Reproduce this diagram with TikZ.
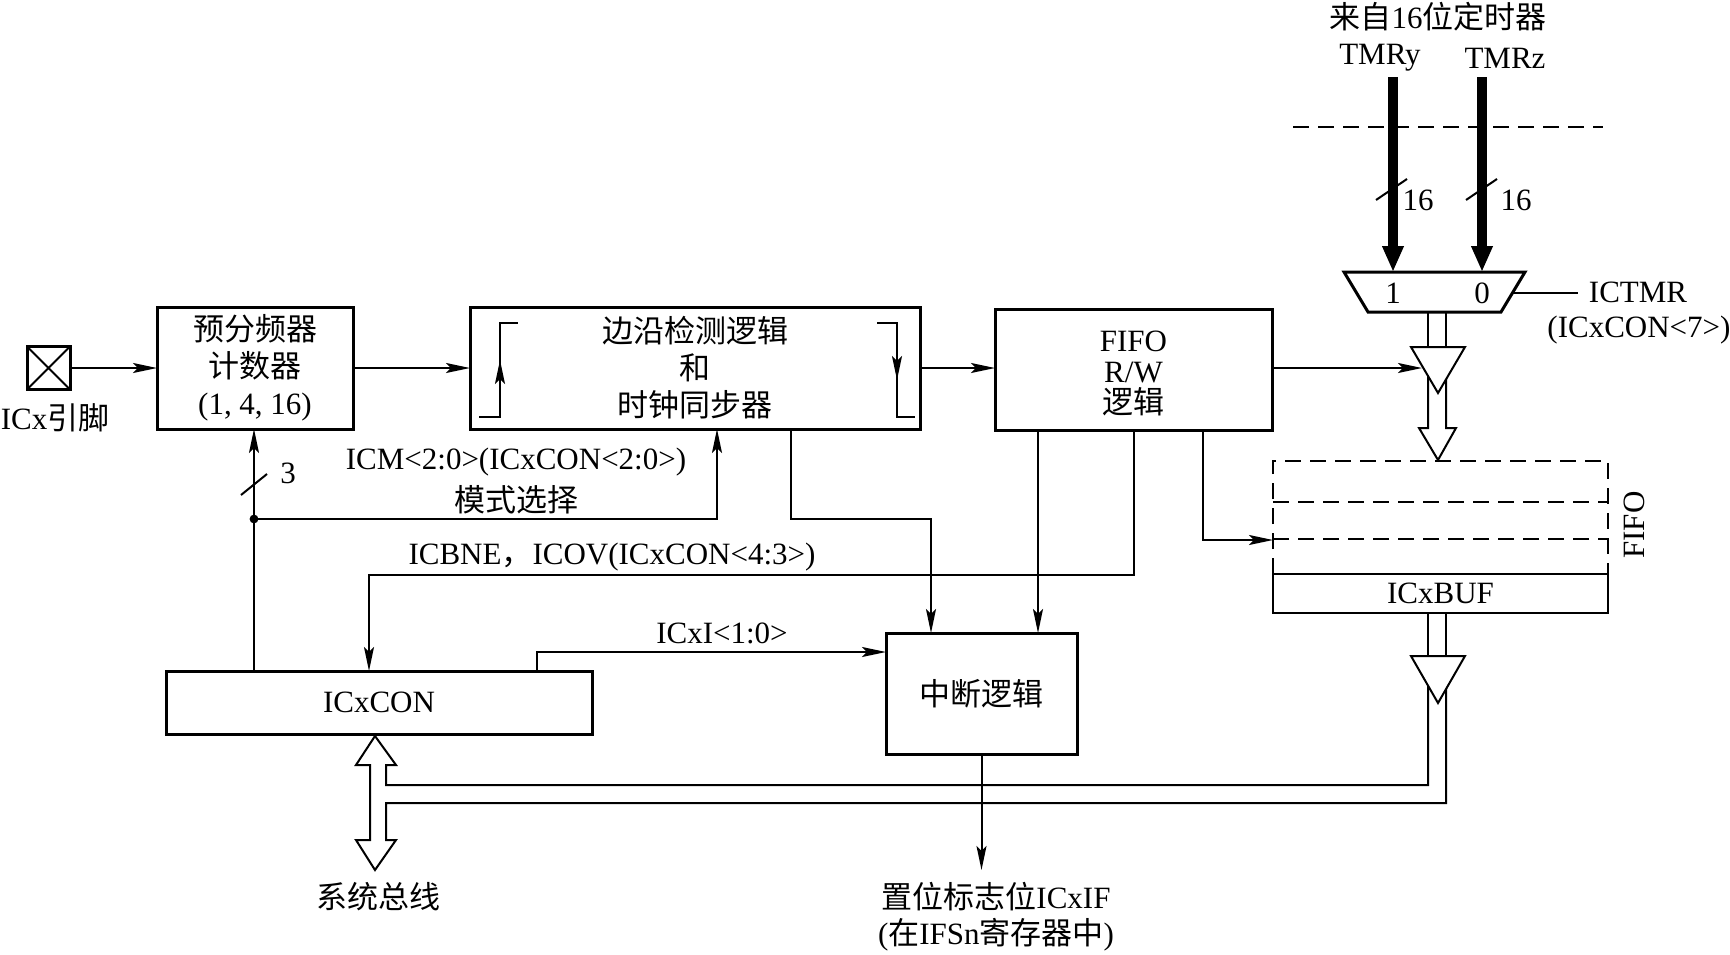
\documentclass[tikz,border=0pt]{standalone}
\usepackage{fontspec}
\setmainfont{Liberation Serif}
\newfontfamily\cjk{Noto Sans CJK SC}
\usetikzlibrary{arrows.meta}
\begin{document}
\begin{tikzpicture}[x=0.5pt,y=-0.5pt,
  font=\fontsize{15.5}{18.5}\selectfont,
  box/.style={draw, line width=1.5pt, inner sep=0pt, outer sep=0pt, align=center},
  conn/.style={line width=1pt},
  arr/.style={conn, -{Stealth[length=12pt,width=5pt,inset=2.5pt]}},
  lbl/.style={inner sep=0pt, align=center},
  fdash/.style={line width=1pt, dash pattern=on 8pt off 4.5pt},
  thickarr/.style={line width=5pt, -{Triangle[length=13pt,width=10pt]}}]
\useasboundingbox (0,0) rectangle (1730,954);

% ---- boxes ----
\node[box, minimum size=21.5pt] (pin) at (48.5,368) {};
\draw[line width=1pt] (pin.north west) -- (pin.south east) (pin.north east) -- (pin.south west);
\node[lbl] (pinlbl) at (55,418) {ICx{\cjk 引脚}};

\node[box, minimum width=98pt, minimum height=61pt] (pre) at (255,368)
  {{\cjk 预分频器}\\{\cjk 计数器}\\(1, 4, 16)};
\node[box, minimum width=225pt, minimum height=61pt] (edge) at (695,368)
  {{\cjk 边沿检测逻辑}\\{\cjk 和}\\{\cjk 时钟同步器}};
\node[box, minimum width=138.5pt, minimum height=60.5pt] (fiforw) at (1133.5,369.5) {};
\node[lbl, font=\fontsize{15.5}{15.5}\selectfont] (fiforwtxt) at (1133.5,373)
  {FIFO\\R/W\\{\cjk 逻辑}};
\node[box, minimum width=95.5pt, minimum height=60.5pt] (int) at (981.5,693.5) {\cjk 中断逻辑};
\node[box, minimum width=213pt, minimum height=31.5pt] (con) at (379,702.5) {ICxCON};
\node[draw, line width=1pt, inner sep=0pt, outer sep=0pt, minimum width=167.5pt, minimum height=19.5pt] (buf) at (1440.5,593.5) {ICxBUF};

% ---- brackets inside edge box ----
\draw[conn] (479,417) -- (500,417) -- (500,323) -- (518,323);
\draw[arr] (500,400) -- (500,360);
\draw[conn] (877,323) -- (897,323) -- (897,417) -- (915,417);
\draw[arr] (897,340) -- (897,380);

% ---- main signal path ----
\draw[arr] (pin) -- (pre);
\draw[arr] (pre) -- (edge);
\coordinate (ey) at (0,368);
\draw[arr] (edge.east |- ey) -- (fiforw.west |- ey);

% ---- ICxCON to prescaler / mode select ----
\coordinate (dot) at (254,519);
\draw[arr] (dot |- con.north) -- (dot |- pre.south);
\fill (dot) circle[radius=2.2pt];
\draw[conn] (241,495) -- (267,474);
\node[lbl] (n3) at (288,473) {3};
\coordinate (mx) at (717,519);
\draw[arr] (dot) -- (mx) -- (mx |- edge.south);
\node[lbl] (icm) at (516,462) {ICM<2:0>(ICxCON<2:0>)};
\node[lbl] (mode) at (516,500) {\cjk 模式选择};

% ---- edge box to interrupt logic ----
\coordinate (ea) at (791,519);
\coordinate (eb) at (931,519);
\draw[arr] (ea |- edge.south) -- (ea) -- (eb) -- (eb |- int.north);

% ---- FIFO R/W logic outputs ----
\coordinate (fa) at (1038,0);
\draw[arr] (fa |- fiforw.south) -- (fa |- int.north);
\coordinate (fb) at (1134,575);
\coordinate (cb) at (369,575);
\draw[arr] (fb |- fiforw.south) -- (fb) -- (cb) -- (cb |- con.north);
\node[lbl] (icbne) at (612,557) {ICBNE{\cjk ，}ICOV(ICxCON<4:3>)};
\coordinate (fc) at (1203,540);
\coordinate (st) at (1273,540);
\draw[arr] (fc |- fiforw.south) -- (fc) -- (st);

% ---- ICxI ----
\coordinate (ca) at (537,652);
\draw[arr] (ca |- con.north) -- (ca) -- (ca -| int.west);
\node[lbl] (icxi) at (722,633) {ICxI<1:0>};

% ---- interrupt output ----
\coordinate (out) at (0,870);
\draw[arr] (int.south) -- (int.south |- out);
\node[lbl] (flag) at (996,897) {{\cjk 置位标志位}ICxIF};
\node[lbl] (flag2) at (996,935) {({\cjk 在}IFSn{\cjk 寄存器中})};

% ---- FIFO stack ----
\draw[fdash] (1273,574) -- (1273,461) -- (1608,461) -- (1608,574);
\draw[fdash] (1273,502) -- (1608,502);
\draw[fdash] (1273,539) -- (1608,539);
\node[lbl, rotate=90] (fifolbl) at (1634,525) {FIFO};

% ---- timers and mux ----
\node[lbl] (from) at (1438,17) {{\cjk 来自}16{\cjk 位定时器}};
\node[lbl] (tmry) at (1380,58) {TMRy};
\node[lbl] (tmrz) at (1505,58) {TMRz};
\draw[fdash] (1293,127) -- (1603,127);
\coordinate (m1) at (1393,272);
\coordinate (m0) at (1482,272);
\draw[thickarr] (m1 |- 0,77) -- (m1);
\draw[thickarr] (m0 |- 0,77) -- (m0);
\draw[conn] (1376,200) -- (1407,179);
\draw[conn] (1466,200) -- (1497,179);
\node[lbl] (b16a) at (1418,200) {16};
\node[lbl] (b16b) at (1516,200) {16};
\draw[line width=1.5pt] (1344,272) -- (1525,272) -- (1501,312) -- (1368,312) -- cycle;
\node[lbl] (one) at (1393,293) {1};
\node[lbl] (zero) at (1482,293) {0};
\draw[conn] (1513,293) -- (1578,293);
\node[lbl] (ictmr) at (1638,292) {ICTMR};
\node[lbl] (ictmr2) at (1639,330) {(ICxCON<7>)};

% ---- upper hollow bus arrow with buffer ----
\draw[conn] (1428,312) -- (1428,350) (1446,312) -- (1446,350);
\draw[conn] (1428,372) -- (1428,428) -- (1419,428) -- (1438,460) -- (1456,428) -- (1446,428) -- (1446,372);
\draw[conn, fill=white] (1411,347) -- (1465,347) -- (1438,393) -- cycle;
\coordinate (ta) at (1422,368);
\draw[arr] (fiforw.east |- ta) -- (ta);

% ---- lower bus from ICxBUF to system bus ----
\draw[conn] (1428,613) -- (1428,660) (1446,613) -- (1446,660);
\draw[conn] (1428,685) -- (1428,785) -- (386,785) -- (386,765) -- (396,765) -- (375,736)
  -- (356,765) -- (370,765) -- (370,840) -- (356,840) -- (375,870) -- (396,840)
  -- (386,840) -- (386,803) -- (1446,803) -- (1446,685);
\draw[conn, fill=white] (1411,656) -- (1465,656) -- (1438,703) -- cycle;
\node[lbl] (sysbus) at (378,897) {\cjk 系统总线};
\end{tikzpicture}
\end{document}
